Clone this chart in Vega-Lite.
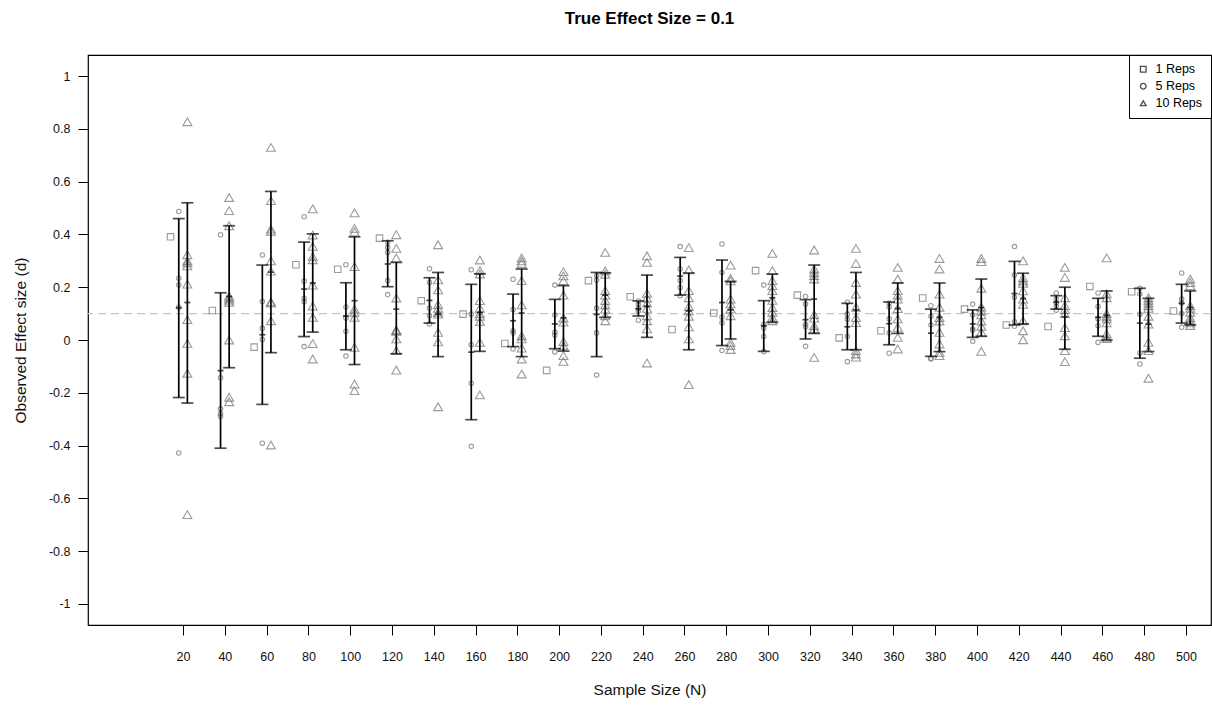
{
"$schema": "https://vega.github.io/schema/vega-lite/v6.json",
"width": 1123, "height": 570,
"autosize": {"type": "none"},
"padding": {"left": 88, "top": 55, "right": 1, "bottom": 83},
"title": {"text": "True Effect Size = 0.1", "fontSize": 17, "fontWeight": "bold", "font": "Liberation Sans", "color": "black", "baseline": "bottom", "offset": 10},
"datasets": {
"ref": [{"d": 0.1}],
"pts": [
{"N":20,"g":"1 Reps","d":0.391},
{"N":20,"g":"5 Reps","d":0.487},{"N":20,"g":"5 Reps","d":0.234},{"N":20,"g":"5 Reps","d":0.208},{"N":20,"g":"5 Reps","d":0.124},{"N":20,"g":"5 Reps","d":-0.428},
{"N":20,"g":"10 Reps","d":0.827},{"N":20,"g":"10 Reps","d":0.323},{"N":20,"g":"10 Reps","d":0.300},{"N":20,"g":"10 Reps","d":0.292},{"N":20,"g":"10 Reps","d":0.281},{"N":20,"g":"10 Reps","d":0.212},{"N":20,"g":"10 Reps","d":0.077},{"N":20,"g":"10 Reps","d":-0.013},{"N":20,"g":"10 Reps","d":-0.126},{"N":20,"g":"10 Reps","d":-0.662},
{"N":40,"g":"1 Reps","d":0.112},
{"N":40,"g":"5 Reps","d":0.399},{"N":40,"g":"5 Reps","d":-0.143},{"N":40,"g":"5 Reps","d":-0.261},{"N":40,"g":"5 Reps","d":-0.280},{"N":40,"g":"5 Reps","d":-0.290},
{"N":40,"g":"10 Reps","d":0.540},{"N":40,"g":"10 Reps","d":0.490},{"N":40,"g":"10 Reps","d":0.433},{"N":40,"g":"10 Reps","d":0.166},{"N":40,"g":"10 Reps","d":0.159},{"N":40,"g":"10 Reps","d":0.151},{"N":40,"g":"10 Reps","d":0.143},{"N":40,"g":"10 Reps","d":0.0},{"N":40,"g":"10 Reps","d":-0.217},{"N":40,"g":"10 Reps","d":-0.234},
{"N":60,"g":"1 Reps","d":-0.027},
{"N":60,"g":"5 Reps","d":0.322},{"N":60,"g":"5 Reps","d":0.146},{"N":60,"g":"5 Reps","d":0.044},{"N":60,"g":"5 Reps","d":0.002},{"N":60,"g":"5 Reps","d":-0.391},
{"N":60,"g":"10 Reps","d":0.730},{"N":60,"g":"10 Reps","d":0.528},{"N":60,"g":"10 Reps","d":0.420},{"N":60,"g":"10 Reps","d":0.412},{"N":60,"g":"10 Reps","d":0.300},{"N":60,"g":"10 Reps","d":0.261},{"N":60,"g":"10 Reps","d":0.145},{"N":60,"g":"10 Reps","d":0.140},{"N":60,"g":"10 Reps","d":0.073},{"N":60,"g":"10 Reps","d":-0.398},
{"N":80,"g":"1 Reps","d":0.285},
{"N":80,"g":"5 Reps","d":0.467},{"N":80,"g":"5 Reps","d":0.223},{"N":80,"g":"5 Reps","d":0.157},{"N":80,"g":"5 Reps","d":0.145},{"N":80,"g":"5 Reps","d":-0.025},
{"N":80,"g":"10 Reps","d":0.497},{"N":80,"g":"10 Reps","d":0.398},{"N":80,"g":"10 Reps","d":0.355},{"N":80,"g":"10 Reps","d":0.317},{"N":80,"g":"10 Reps","d":0.304},{"N":80,"g":"10 Reps","d":0.208},{"N":80,"g":"10 Reps","d":0.129},{"N":80,"g":"10 Reps","d":0.086},{"N":80,"g":"10 Reps","d":-0.014},{"N":80,"g":"10 Reps","d":-0.072},
{"N":100,"g":"1 Reps","d":0.268},
{"N":100,"g":"5 Reps","d":0.285},{"N":100,"g":"5 Reps","d":0.125},{"N":100,"g":"5 Reps","d":0.083},{"N":100,"g":"5 Reps","d":0.033},{"N":100,"g":"5 Reps","d":-0.061},
{"N":100,"g":"10 Reps","d":0.482},{"N":100,"g":"10 Reps","d":0.423},{"N":100,"g":"10 Reps","d":0.410},{"N":100,"g":"10 Reps","d":0.278},{"N":100,"g":"10 Reps","d":0.117},{"N":100,"g":"10 Reps","d":0.105},{"N":100,"g":"10 Reps","d":0.086},{"N":100,"g":"10 Reps","d":-0.028},{"N":100,"g":"10 Reps","d":-0.167},{"N":100,"g":"10 Reps","d":-0.192},
{"N":120,"g":"1 Reps","d":0.386},
{"N":120,"g":"5 Reps","d":0.370},{"N":120,"g":"5 Reps","d":0.351},{"N":120,"g":"5 Reps","d":0.332},{"N":120,"g":"5 Reps","d":0.225},{"N":120,"g":"5 Reps","d":0.172},
{"N":120,"g":"10 Reps","d":0.399},{"N":120,"g":"10 Reps","d":0.347},{"N":120,"g":"10 Reps","d":0.311},{"N":120,"g":"10 Reps","d":0.159},{"N":120,"g":"10 Reps","d":0.038},{"N":120,"g":"10 Reps","d":0.036},{"N":120,"g":"10 Reps","d":0.033},{"N":120,"g":"10 Reps","d":0.004},{"N":120,"g":"10 Reps","d":-0.040},{"N":120,"g":"10 Reps","d":-0.114},
{"N":140,"g":"1 Reps","d":0.149},
{"N":140,"g":"5 Reps","d":0.270},{"N":140,"g":"5 Reps","d":0.218},{"N":140,"g":"5 Reps","d":0.120},{"N":140,"g":"5 Reps","d":0.092},{"N":140,"g":"5 Reps","d":0.061},
{"N":140,"g":"10 Reps","d":0.361},{"N":140,"g":"10 Reps","d":0.228},{"N":140,"g":"10 Reps","d":0.190},{"N":140,"g":"10 Reps","d":0.134},{"N":140,"g":"10 Reps","d":0.120},{"N":140,"g":"10 Reps","d":0.105},{"N":140,"g":"10 Reps","d":0.098},{"N":140,"g":"10 Reps","d":0.029},{"N":140,"g":"10 Reps","d":-0.007},{"N":140,"g":"10 Reps","d":-0.253},
{"N":160,"g":"1 Reps","d":0.098},
{"N":160,"g":"5 Reps","d":0.266},{"N":160,"g":"5 Reps","d":0.098},{"N":160,"g":"5 Reps","d":-0.018},{"N":160,"g":"5 Reps","d":-0.164},{"N":160,"g":"5 Reps","d":-0.403},
{"N":160,"g":"10 Reps","d":0.303},{"N":160,"g":"10 Reps","d":0.263},{"N":160,"g":"10 Reps","d":0.250},{"N":160,"g":"10 Reps","d":0.149},{"N":160,"g":"10 Reps","d":0.120},{"N":160,"g":"10 Reps","d":0.100},{"N":160,"g":"10 Reps","d":0.090},{"N":160,"g":"10 Reps","d":0.070},{"N":160,"g":"10 Reps","d":-0.009},{"N":160,"g":"10 Reps","d":-0.208},
{"N":180,"g":"1 Reps","d":-0.013},
{"N":180,"g":"5 Reps","d":0.230},{"N":180,"g":"5 Reps","d":0.115},{"N":180,"g":"5 Reps","d":0.035},{"N":180,"g":"5 Reps","d":0.027},{"N":180,"g":"5 Reps","d":-0.034},
{"N":180,"g":"10 Reps","d":0.311},{"N":180,"g":"10 Reps","d":0.300},{"N":180,"g":"10 Reps","d":0.290},{"N":180,"g":"10 Reps","d":0.225},{"N":180,"g":"10 Reps","d":0.133},{"N":180,"g":"10 Reps","d":0.016},{"N":180,"g":"10 Reps","d":0.004},{"N":180,"g":"10 Reps","d":-0.031},{"N":180,"g":"10 Reps","d":-0.072},{"N":180,"g":"10 Reps","d":-0.129},
{"N":200,"g":"1 Reps","d":-0.115},
{"N":200,"g":"5 Reps","d":0.208},{"N":200,"g":"5 Reps","d":0.095},{"N":200,"g":"5 Reps","d":0.029},{"N":200,"g":"5 Reps","d":0.018},{"N":200,"g":"5 Reps","d":-0.045},
{"N":200,"g":"10 Reps","d":0.259},{"N":200,"g":"10 Reps","d":0.243},{"N":200,"g":"10 Reps","d":0.225},{"N":200,"g":"10 Reps","d":0.170},{"N":200,"g":"10 Reps","d":0.083},{"N":200,"g":"10 Reps","d":0.068},{"N":200,"g":"10 Reps","d":-0.006},{"N":200,"g":"10 Reps","d":-0.021},{"N":200,"g":"10 Reps","d":-0.059},{"N":200,"g":"10 Reps","d":-0.081},
{"N":220,"g":"1 Reps","d":0.225},
{"N":220,"g":"5 Reps","d":0.244},{"N":220,"g":"5 Reps","d":0.227},{"N":220,"g":"5 Reps","d":0.120},{"N":220,"g":"5 Reps","d":0.027},{"N":220,"g":"5 Reps","d":-0.133},
{"N":220,"g":"10 Reps","d":0.332},{"N":220,"g":"10 Reps","d":0.262},{"N":220,"g":"10 Reps","d":0.249},{"N":220,"g":"10 Reps","d":0.187},{"N":220,"g":"10 Reps","d":0.170},{"N":220,"g":"10 Reps","d":0.149},{"N":220,"g":"10 Reps","d":0.133},{"N":220,"g":"10 Reps","d":0.117},{"N":220,"g":"10 Reps","d":0.092},{"N":220,"g":"10 Reps","d":0.073},
{"N":240,"g":"1 Reps","d":0.164},
{"N":240,"g":"5 Reps","d":0.148},{"N":240,"g":"5 Reps","d":0.135},{"N":240,"g":"5 Reps","d":0.120},{"N":240,"g":"5 Reps","d":0.110},{"N":240,"g":"5 Reps","d":0.075},
{"N":240,"g":"10 Reps","d":0.319},{"N":240,"g":"10 Reps","d":0.294},{"N":240,"g":"10 Reps","d":0.177},{"N":240,"g":"10 Reps","d":0.159},{"N":240,"g":"10 Reps","d":0.140},{"N":240,"g":"10 Reps","d":0.120},{"N":240,"g":"10 Reps","d":0.092},{"N":240,"g":"10 Reps","d":0.073},{"N":240,"g":"10 Reps","d":0.042},{"N":240,"g":"10 Reps","d":-0.087},
{"N":260,"g":"1 Reps","d":0.040},
{"N":260,"g":"5 Reps","d":0.354},{"N":260,"g":"5 Reps","d":0.269},{"N":260,"g":"5 Reps","d":0.225},{"N":260,"g":"5 Reps","d":0.199},{"N":260,"g":"5 Reps","d":0.168},
{"N":260,"g":"10 Reps","d":0.350},{"N":260,"g":"10 Reps","d":0.266},{"N":260,"g":"10 Reps","d":0.187},{"N":260,"g":"10 Reps","d":0.160},{"N":260,"g":"10 Reps","d":0.127},{"N":260,"g":"10 Reps","d":0.111},{"N":260,"g":"10 Reps","d":0.090},{"N":260,"g":"10 Reps","d":0.050},{"N":260,"g":"10 Reps","d":0.004},{"N":260,"g":"10 Reps","d":-0.169},
{"N":280,"g":"1 Reps","d":0.102},
{"N":280,"g":"5 Reps","d":0.364},{"N":280,"g":"5 Reps","d":0.256},{"N":280,"g":"5 Reps","d":0.086},{"N":280,"g":"5 Reps","d":0.065},{"N":280,"g":"5 Reps","d":-0.040},
{"N":280,"g":"10 Reps","d":0.284},{"N":280,"g":"10 Reps","d":0.233},{"N":280,"g":"10 Reps","d":0.224},{"N":280,"g":"10 Reps","d":0.155},{"N":280,"g":"10 Reps","d":0.137},{"N":280,"g":"10 Reps","d":0.118},{"N":280,"g":"10 Reps","d":0.092},{"N":280,"g":"10 Reps","d":-0.009},{"N":280,"g":"10 Reps","d":-0.021},{"N":280,"g":"10 Reps","d":-0.036},
{"N":300,"g":"1 Reps","d":0.263},
{"N":300,"g":"5 Reps","d":0.208},{"N":300,"g":"5 Reps","d":0.060},{"N":300,"g":"5 Reps","d":0.045},{"N":300,"g":"5 Reps","d":0.013},{"N":300,"g":"5 Reps","d":-0.044},
{"N":300,"g":"10 Reps","d":0.328},{"N":300,"g":"10 Reps","d":0.263},{"N":300,"g":"10 Reps","d":0.225},{"N":300,"g":"10 Reps","d":0.206},{"N":300,"g":"10 Reps","d":0.187},{"N":300,"g":"10 Reps","d":0.150},{"N":300,"g":"10 Reps","d":0.123},{"N":300,"g":"10 Reps","d":0.105},{"N":300,"g":"10 Reps","d":0.086},{"N":300,"g":"10 Reps","d":0.073},
{"N":320,"g":"1 Reps","d":0.170},
{"N":320,"g":"5 Reps","d":0.165},{"N":320,"g":"5 Reps","d":0.136},{"N":320,"g":"5 Reps","d":0.060},{"N":320,"g":"5 Reps","d":0.050},{"N":320,"g":"5 Reps","d":-0.024},
{"N":320,"g":"10 Reps","d":0.341},{"N":320,"g":"10 Reps","d":0.269},{"N":320,"g":"10 Reps","d":0.256},{"N":320,"g":"10 Reps","d":0.244},{"N":320,"g":"10 Reps","d":0.231},{"N":320,"g":"10 Reps","d":0.096},{"N":320,"g":"10 Reps","d":0.083},{"N":320,"g":"10 Reps","d":0.054},{"N":320,"g":"10 Reps","d":0.042},{"N":320,"g":"10 Reps","d":-0.066},
{"N":340,"g":"1 Reps","d":0.008},
{"N":340,"g":"5 Reps","d":0.143},{"N":340,"g":"5 Reps","d":0.098},{"N":340,"g":"5 Reps","d":0.079},{"N":340,"g":"5 Reps","d":0.014},{"N":340,"g":"5 Reps","d":-0.082},
{"N":340,"g":"10 Reps","d":0.347},{"N":340,"g":"10 Reps","d":0.290},{"N":340,"g":"10 Reps","d":0.218},{"N":340,"g":"10 Reps","d":0.174},{"N":340,"g":"10 Reps","d":0.124},{"N":340,"g":"10 Reps","d":0.085},{"N":340,"g":"10 Reps","d":0.066},{"N":340,"g":"10 Reps","d":-0.040},{"N":340,"g":"10 Reps","d":-0.053},{"N":340,"g":"10 Reps","d":-0.065},
{"N":360,"g":"1 Reps","d":0.035},
{"N":360,"g":"5 Reps","d":0.140},{"N":360,"g":"5 Reps","d":0.125},{"N":360,"g":"5 Reps","d":0.080},{"N":360,"g":"5 Reps","d":0.027},{"N":360,"g":"5 Reps","d":-0.050},
{"N":360,"g":"10 Reps","d":0.275},{"N":360,"g":"10 Reps","d":0.231},{"N":360,"g":"10 Reps","d":0.187},{"N":360,"g":"10 Reps","d":0.170},{"N":360,"g":"10 Reps","d":0.155},{"N":360,"g":"10 Reps","d":0.119},{"N":360,"g":"10 Reps","d":0.080},{"N":360,"g":"10 Reps","d":0.048},{"N":360,"g":"10 Reps","d":0.010},{"N":360,"g":"10 Reps","d":-0.034},
{"N":380,"g":"1 Reps","d":0.159},
{"N":380,"g":"5 Reps","d":0.130},{"N":380,"g":"5 Reps","d":0.090},{"N":380,"g":"5 Reps","d":0.057},{"N":380,"g":"5 Reps","d":-0.069},{"N":380,"g":"5 Reps","d":-0.072},
{"N":380,"g":"10 Reps","d":0.309},{"N":380,"g":"10 Reps","d":0.269},{"N":380,"g":"10 Reps","d":0.174},{"N":380,"g":"10 Reps","d":0.124},{"N":380,"g":"10 Reps","d":0.085},{"N":380,"g":"10 Reps","d":0.072},{"N":380,"g":"10 Reps","d":0.029},{"N":380,"g":"10 Reps","d":-0.015},{"N":380,"g":"10 Reps","d":-0.047},{"N":380,"g":"10 Reps","d":-0.059},
{"N":400,"g":"1 Reps","d":0.117},
{"N":400,"g":"5 Reps","d":0.136},{"N":400,"g":"5 Reps","d":0.095},{"N":400,"g":"5 Reps","d":0.042},{"N":400,"g":"5 Reps","d":0.037},{"N":400,"g":"5 Reps","d":-0.005},
{"N":400,"g":"10 Reps","d":0.309},{"N":400,"g":"10 Reps","d":0.297},{"N":400,"g":"10 Reps","d":0.196},{"N":400,"g":"10 Reps","d":0.125},{"N":400,"g":"10 Reps","d":0.110},{"N":400,"g":"10 Reps","d":0.095},{"N":400,"g":"10 Reps","d":0.072},{"N":400,"g":"10 Reps","d":0.052},{"N":400,"g":"10 Reps","d":0.030},{"N":400,"g":"10 Reps","d":-0.043},
{"N":420,"g":"1 Reps","d":0.057},
{"N":420,"g":"5 Reps","d":0.354},{"N":420,"g":"5 Reps","d":0.246},{"N":420,"g":"5 Reps","d":0.162},{"N":420,"g":"5 Reps","d":0.069},{"N":420,"g":"5 Reps","d":0.052},
{"N":420,"g":"10 Reps","d":0.300},{"N":420,"g":"10 Reps","d":0.236},{"N":420,"g":"10 Reps","d":0.224},{"N":420,"g":"10 Reps","d":0.215},{"N":420,"g":"10 Reps","d":0.186},{"N":420,"g":"10 Reps","d":0.155},{"N":420,"g":"10 Reps","d":0.135},{"N":420,"g":"10 Reps","d":0.073},{"N":420,"g":"10 Reps","d":0.035},{"N":420,"g":"10 Reps","d":0.001},
{"N":440,"g":"1 Reps","d":0.051},
{"N":440,"g":"5 Reps","d":0.178},{"N":440,"g":"5 Reps","d":0.155},{"N":440,"g":"5 Reps","d":0.140},{"N":440,"g":"5 Reps","d":0.127},{"N":440,"g":"5 Reps","d":0.113},
{"N":440,"g":"10 Reps","d":0.275},{"N":440,"g":"10 Reps","d":0.237},{"N":440,"g":"10 Reps","d":0.160},{"N":440,"g":"10 Reps","d":0.130},{"N":440,"g":"10 Reps","d":0.115},{"N":440,"g":"10 Reps","d":0.100},{"N":440,"g":"10 Reps","d":0.047},{"N":440,"g":"10 Reps","d":0.016},{"N":440,"g":"10 Reps","d":-0.040},{"N":440,"g":"10 Reps","d":-0.082},
{"N":460,"g":"1 Reps","d":0.203},
{"N":460,"g":"5 Reps","d":0.178},{"N":460,"g":"5 Reps","d":0.127},{"N":460,"g":"5 Reps","d":0.080},{"N":460,"g":"5 Reps","d":0.054},{"N":460,"g":"5 Reps","d":-0.009},
{"N":460,"g":"10 Reps","d":0.311},{"N":460,"g":"10 Reps","d":0.175},{"N":460,"g":"10 Reps","d":0.160},{"N":460,"g":"10 Reps","d":0.100},{"N":460,"g":"10 Reps","d":0.090},{"N":460,"g":"10 Reps","d":0.080},{"N":460,"g":"10 Reps","d":0.065},{"N":460,"g":"10 Reps","d":0.023},{"N":460,"g":"10 Reps","d":0.010},{"N":460,"g":"10 Reps","d":0.005},
{"N":480,"g":"1 Reps","d":0.183},
{"N":480,"g":"5 Reps","d":0.196},{"N":480,"g":"5 Reps","d":0.174},{"N":480,"g":"5 Reps","d":0.098},{"N":480,"g":"5 Reps","d":-0.049},{"N":480,"g":"5 Reps","d":-0.091},
{"N":480,"g":"10 Reps","d":0.160},{"N":480,"g":"10 Reps","d":0.150},{"N":480,"g":"10 Reps","d":0.140},{"N":480,"g":"10 Reps","d":0.130},{"N":480,"g":"10 Reps","d":0.120},{"N":480,"g":"10 Reps","d":0.090},{"N":480,"g":"10 Reps","d":0.060},{"N":480,"g":"10 Reps","d":-0.009},{"N":480,"g":"10 Reps","d":-0.040},{"N":480,"g":"10 Reps","d":-0.145},
{"N":500,"g":"1 Reps","d":0.110},
{"N":500,"g":"5 Reps","d":0.254},{"N":500,"g":"5 Reps","d":0.155},{"N":500,"g":"5 Reps","d":0.140},{"N":500,"g":"5 Reps","d":0.100},{"N":500,"g":"5 Reps","d":0.048},
{"N":500,"g":"10 Reps","d":0.231},{"N":500,"g":"10 Reps","d":0.218},{"N":500,"g":"10 Reps","d":0.206},{"N":500,"g":"10 Reps","d":0.130},{"N":500,"g":"10 Reps","d":0.120},{"N":500,"g":"10 Reps","d":0.105},{"N":500,"g":"10 Reps","d":0.085},{"N":500,"g":"10 Reps","d":0.075},{"N":500,"g":"10 Reps","d":0.065},{"N":500,"g":"10 Reps","d":0.055}
],
"bars": [
{"N":20,"g":"5 Reps","mean":0.122,"lo":-0.218,"hi":0.460},{"N":20,"g":"10 Reps","mean":0.142,"lo":-0.239,"hi":0.520},
{"N":40,"g":"5 Reps","mean":-0.116,"lo":-0.410,"hi":0.179},{"N":40,"g":"10 Reps","mean":0.165,"lo":-0.105,"hi":0.433},
{"N":60,"g":"5 Reps","mean":0.020,"lo":-0.244,"hi":0.284},{"N":60,"g":"10 Reps","mean":0.257,"lo":-0.048,"hi":0.563},
{"N":80,"g":"5 Reps","mean":0.193,"lo":0.013,"hi":0.371},{"N":80,"g":"10 Reps","mean":0.216,"lo":0.030,"hi":0.402},
{"N":100,"g":"5 Reps","mean":0.091,"lo":-0.037,"hi":0.217},{"N":100,"g":"10 Reps","mean":0.149,"lo":-0.093,"hi":0.391},
{"N":120,"g":"5 Reps","mean":0.288,"lo":0.202,"hi":0.376},{"N":120,"g":"10 Reps","mean":0.117,"lo":-0.052,"hi":0.294},
{"N":140,"g":"5 Reps","mean":0.150,"lo":0.064,"hi":0.236},{"N":140,"g":"10 Reps","mean":0.098,"lo":-0.063,"hi":0.256},
{"N":160,"g":"5 Reps","mean":-0.046,"lo":-0.302,"hi":0.211},{"N":160,"g":"10 Reps","mean":0.105,"lo":-0.043,"hi":0.251},
{"N":180,"g":"5 Reps","mean":0.073,"lo":-0.025,"hi":0.174},{"N":180,"g":"10 Reps","mean":0.102,"lo":-0.063,"hi":0.269},
{"N":200,"g":"5 Reps","mean":0.061,"lo":-0.033,"hi":0.154},{"N":200,"g":"10 Reps","mean":0.084,"lo":-0.042,"hi":0.206},
{"N":220,"g":"5 Reps","mean":0.097,"lo":-0.063,"hi":0.256},{"N":220,"g":"10 Reps","mean":0.170,"lo":0.086,"hi":0.254},
{"N":240,"g":"5 Reps","mean":0.118,"lo":0.091,"hi":0.148},{"N":240,"g":"10 Reps","mean":0.128,"lo":0.010,"hi":0.246},
{"N":260,"g":"5 Reps","mean":0.242,"lo":0.170,"hi":0.313},{"N":260,"g":"10 Reps","mean":0.110,"lo":-0.037,"hi":0.254},
{"N":280,"g":"5 Reps","mean":0.142,"lo":-0.021,"hi":0.303},{"N":280,"g":"10 Reps","mean":0.114,"lo":0.004,"hi":0.222},
{"N":300,"g":"5 Reps","mean":0.054,"lo":-0.043,"hi":0.149},{"N":300,"g":"10 Reps","mean":0.160,"lo":0.067,"hi":0.250},
{"N":320,"g":"5 Reps","mean":0.077,"lo":0.004,"hi":0.153},{"N":320,"g":"10 Reps","mean":0.155,"lo":0.025,"hi":0.284},
{"N":340,"g":"5 Reps","mean":0.050,"lo":-0.037,"hi":0.139},{"N":340,"g":"10 Reps","mean":0.114,"lo":-0.037,"hi":0.256},
{"N":360,"g":"5 Reps","mean":0.062,"lo":-0.018,"hi":0.144},{"N":360,"g":"10 Reps","mean":0.119,"lo":0.025,"hi":0.216},
{"N":380,"g":"5 Reps","mean":0.026,"lo":-0.062,"hi":0.117},{"N":380,"g":"10 Reps","mean":0.086,"lo":-0.044,"hi":0.216},
{"N":400,"g":"5 Reps","mean":0.061,"lo":0.010,"hi":0.114},{"N":400,"g":"10 Reps","mean":0.123,"lo":0.014,"hi":0.231},
{"N":420,"g":"5 Reps","mean":0.176,"lo":0.057,"hi":0.298},{"N":420,"g":"10 Reps","mean":0.157,"lo":0.061,"hi":0.253},
{"N":440,"g":"5 Reps","mean":0.143,"lo":0.117,"hi":0.168},{"N":440,"g":"10 Reps","mean":0.088,"lo":-0.035,"hi":0.200},
{"N":460,"g":"5 Reps","mean":0.086,"lo":0.014,"hi":0.158},{"N":460,"g":"10 Reps","mean":0.093,"lo":0.000,"hi":0.186},
{"N":480,"g":"5 Reps","mean":0.064,"lo":-0.069,"hi":0.196},{"N":480,"g":"10 Reps","mean":0.060,"lo":-0.044,"hi":0.158},
{"N":500,"g":"5 Reps","mean":0.139,"lo":0.064,"hi":0.211},{"N":500,"g":"10 Reps","mean":0.123,"lo":0.057,"hi":0.186}
]
},
"layer": [
{"data": {"name": "ref"}, "mark": {"type": "rule", "color": "#c4c4c4", "strokeDash": [8, 5], "strokeWidth": 1.2},
 "encoding": {"y": {"field": "d", "type": "quantitative", "title": "Observed Effect size (d)", "scale": {"domain": [-1.08, 1.08], "nice": false, "zero": false}, "axis": {"values": [-1,-0.8,-0.6,-0.4,-0.2,0,0.2,0.4,0.6,0.8,1], "labelExpr": "replace(format(datum.value, '~g'), '\u2212', '-')"}}}},
{"data": {"name": "pts"}, "transform": [{"filter": "datum.g == '1 Reps'"}], "mark": {"type": "point", "filled": false, "color": "#727272", "strokeWidth": 1.1, "size": 42, "xOffset": -12.5},
 "encoding": {
  "x": {"field": "N", "type": "quantitative", "title": "Sample Size (N)", "scale": {"domain": [-25.5, 512], "nice": false, "zero": false}, "axis": {"values": [20,40,60,80,100,120,140,160,180,200,220,240,260,280,300,320,340,360,380,400,420,440,460,480,500]}},
  "y": {"field": "d", "type": "quantitative", "title": "Observed Effect size (d)", "scale": {"domain": [-1.08, 1.08], "nice": false, "zero": false}, "axis": {"values": [-1,-0.8,-0.6,-0.4,-0.2,0,0.2,0.4,0.6,0.8,1], "labelExpr": "replace(format(datum.value, '~g'), '\u2212', '-')"}},
  "shape": {"field": "g", "type": "nominal", "scale": {"domain": ["1 Reps", "5 Reps", "10 Reps"], "range": ["square", "circle", "triangle-up"]},
   "legend": {"title": null, "orient": "top-right", "offset": 0, "strokeColor": "black", "fillColor": "white", "padding": 8, "labelFontSize": 12.5, "labelColor": "black", "symbolSize": 32, "symbolStrokeColor": "black", "symbolStrokeWidth": 1.3, "rowPadding": 4, "labelOffset": 6, "encode": {"symbols": {"enter": {"stroke": {"value": "black"}}, "update": {"stroke": {"value": "black"}, "strokeWidth": {"value": 1.3}}}}}}
 }},
{"data": {"name": "pts"}, "transform": [{"filter": "datum.g == '5 Reps'"}], "mark": {"type": "point", "filled": false, "color": "#727272", "strokeWidth": 1.1, "size": 20, "xOffset": -4.3},
 "encoding": {
  "x": {"field": "N", "type": "quantitative", "title": "Sample Size (N)", "scale": {"domain": [-25.5, 512], "nice": false, "zero": false}, "axis": {"values": [20,40,60,80,100,120,140,160,180,200,220,240,260,280,300,320,340,360,380,400,420,440,460,480,500]}},
  "y": {"field": "d", "type": "quantitative", "title": "Observed Effect size (d)", "scale": {"domain": [-1.08, 1.08], "nice": false, "zero": false}, "axis": {"values": [-1,-0.8,-0.6,-0.4,-0.2,0,0.2,0.4,0.6,0.8,1], "labelExpr": "replace(format(datum.value, '~g'), '\u2212', '-')"}},
  "shape": {"field": "g", "type": "nominal", "scale": {"domain": ["1 Reps", "5 Reps", "10 Reps"], "range": ["square", "circle", "triangle-up"]},
   "legend": {"title": null, "orient": "top-right", "offset": 0, "strokeColor": "black", "fillColor": "white", "padding": 8, "labelFontSize": 12.5, "labelColor": "black", "symbolSize": 32, "symbolStrokeColor": "black", "symbolStrokeWidth": 1.3, "rowPadding": 4, "labelOffset": 6, "encode": {"symbols": {"enter": {"stroke": {"value": "black"}}, "update": {"stroke": {"value": "black"}, "strokeWidth": {"value": 1.3}}}}}}
 }},
{"data": {"name": "pts"}, "transform": [{"filter": "datum.g == '10 Reps'"}], "mark": {"type": "point", "filled": false, "color": "#727272", "strokeWidth": 1.1, "size": 80, "xOffset": 4.3},
 "encoding": {
  "x": {"field": "N", "type": "quantitative", "title": "Sample Size (N)", "scale": {"domain": [-25.5, 512], "nice": false, "zero": false}, "axis": {"values": [20,40,60,80,100,120,140,160,180,200,220,240,260,280,300,320,340,360,380,400,420,440,460,480,500]}},
  "y": {"field": "d", "type": "quantitative", "title": "Observed Effect size (d)", "scale": {"domain": [-1.08, 1.08], "nice": false, "zero": false}, "axis": {"values": [-1,-0.8,-0.6,-0.4,-0.2,0,0.2,0.4,0.6,0.8,1], "labelExpr": "replace(format(datum.value, '~g'), '\u2212', '-')"}},
  "shape": {"field": "g", "type": "nominal", "scale": {"domain": ["1 Reps", "5 Reps", "10 Reps"], "range": ["square", "circle", "triangle-up"]},
   "legend": {"title": null, "orient": "top-right", "offset": 0, "strokeColor": "black", "fillColor": "white", "padding": 8, "labelFontSize": 12.5, "labelColor": "black", "symbolSize": 32, "symbolStrokeColor": "black", "symbolStrokeWidth": 1.3, "rowPadding": 4, "labelOffset": 6, "encode": {"symbols": {"enter": {"stroke": {"value": "black"}}, "update": {"stroke": {"value": "black"}, "strokeWidth": {"value": 1.3}}}}}}
 }},
{"data": {"name": "bars"}, "transform": [{"filter": "datum.g == '5 Reps'"}],
 "layer": [
  {"mark": {"type": "rule", "color": "black", "strokeWidth": 1.7, "xOffset": -4.3}, "encoding": {"y": {"field": "lo", "type": "quantitative", "title": "Observed Effect size (d)", "scale": {"domain": [-1.08, 1.08], "nice": false, "zero": false}, "axis": {"values": [-1,-0.8,-0.6,-0.4,-0.2,0,0.2,0.4,0.6,0.8,1], "labelExpr": "replace(format(datum.value, '~g'), '\u2212', '-')"}}, "y2": {"field": "hi"}}},
  {"mark": {"type": "tick", "orient": "horizontal", "color": "black", "size": 12, "thickness": 1.7, "xOffset": -4.3}, "encoding": {"y": {"field": "lo", "type": "quantitative", "title": "Observed Effect size (d)", "scale": {"domain": [-1.08, 1.08], "nice": false, "zero": false}, "axis": {"values": [-1,-0.8,-0.6,-0.4,-0.2,0,0.2,0.4,0.6,0.8,1], "labelExpr": "replace(format(datum.value, '~g'), '\u2212', '-')"}}}},
  {"mark": {"type": "tick", "orient": "horizontal", "color": "black", "size": 12, "thickness": 1.7, "xOffset": -4.3}, "encoding": {"y": {"field": "hi", "type": "quantitative", "title": "Observed Effect size (d)", "scale": {"domain": [-1.08, 1.08], "nice": false, "zero": false}, "axis": {"values": [-1,-0.8,-0.6,-0.4,-0.2,0,0.2,0.4,0.6,0.8,1], "labelExpr": "replace(format(datum.value, '~g'), '\u2212', '-')"}}}},
  {"mark": {"type": "tick", "orient": "horizontal", "color": "black", "size": 6, "thickness": 1.7, "xOffset": -4.3}, "encoding": {"y": {"field": "mean", "type": "quantitative", "title": "Observed Effect size (d)", "scale": {"domain": [-1.08, 1.08], "nice": false, "zero": false}, "axis": {"values": [-1,-0.8,-0.6,-0.4,-0.2,0,0.2,0.4,0.6,0.8,1], "labelExpr": "replace(format(datum.value, '~g'), '\u2212', '-')"}}}}
 ],
 "encoding": {"x": {"field": "N", "type": "quantitative", "title": "Sample Size (N)", "scale": {"domain": [-25.5, 512], "nice": false, "zero": false}, "axis": {"values": [20,40,60,80,100,120,140,160,180,200,220,240,260,280,300,320,340,360,380,400,420,440,460,480,500]}}}
},
{"data": {"name": "bars"}, "transform": [{"filter": "datum.g == '10 Reps'"}],
 "layer": [
  {"mark": {"type": "rule", "color": "black", "strokeWidth": 1.7, "xOffset": 4.3}, "encoding": {"y": {"field": "lo", "type": "quantitative", "title": "Observed Effect size (d)", "scale": {"domain": [-1.08, 1.08], "nice": false, "zero": false}, "axis": {"values": [-1,-0.8,-0.6,-0.4,-0.2,0,0.2,0.4,0.6,0.8,1], "labelExpr": "replace(format(datum.value, '~g'), '\u2212', '-')"}}, "y2": {"field": "hi"}}},
  {"mark": {"type": "tick", "orient": "horizontal", "color": "black", "size": 12, "thickness": 1.7, "xOffset": 4.3}, "encoding": {"y": {"field": "lo", "type": "quantitative", "title": "Observed Effect size (d)", "scale": {"domain": [-1.08, 1.08], "nice": false, "zero": false}, "axis": {"values": [-1,-0.8,-0.6,-0.4,-0.2,0,0.2,0.4,0.6,0.8,1], "labelExpr": "replace(format(datum.value, '~g'), '\u2212', '-')"}}}},
  {"mark": {"type": "tick", "orient": "horizontal", "color": "black", "size": 12, "thickness": 1.7, "xOffset": 4.3}, "encoding": {"y": {"field": "hi", "type": "quantitative", "title": "Observed Effect size (d)", "scale": {"domain": [-1.08, 1.08], "nice": false, "zero": false}, "axis": {"values": [-1,-0.8,-0.6,-0.4,-0.2,0,0.2,0.4,0.6,0.8,1], "labelExpr": "replace(format(datum.value, '~g'), '\u2212', '-')"}}}},
  {"mark": {"type": "tick", "orient": "horizontal", "color": "black", "size": 6, "thickness": 1.7, "xOffset": 4.3}, "encoding": {"y": {"field": "mean", "type": "quantitative", "title": "Observed Effect size (d)", "scale": {"domain": [-1.08, 1.08], "nice": false, "zero": false}, "axis": {"values": [-1,-0.8,-0.6,-0.4,-0.2,0,0.2,0.4,0.6,0.8,1], "labelExpr": "replace(format(datum.value, '~g'), '\u2212', '-')"}}}}
 ],
 "encoding": {"x": {"field": "N", "type": "quantitative", "title": "Sample Size (N)", "scale": {"domain": [-25.5, 512], "nice": false, "zero": false}, "axis": {"values": [20,40,60,80,100,120,140,160,180,200,220,240,260,280,300,320,340,360,380,400,420,440,460,480,500]}}}
}
],
"config": {
 "view": {"stroke": "black", "strokeWidth": 1.2},
 "font": "Liberation Sans",
 "axis": {"grid": false, "domain": false, "tickColor": "black", "tickSize": 10, "tickWidth": 1, "labelColor": "#111111", "titleColor": "#111111", "labelFontSize": 12.5, "titleFontSize": 15.5, "titleFontWeight": "normal", "labelFont": "Liberation Sans", "titleFont": "Liberation Sans", "labelFlush": false, "labelOverlap": false},
 "axisX": {"labelPadding": 15, "titlePadding": 20},
 "axisY": {"labelPadding": 8, "titlePadding": 20},
 "legend": {"labelFont": "Liberation Sans"}
}
}
